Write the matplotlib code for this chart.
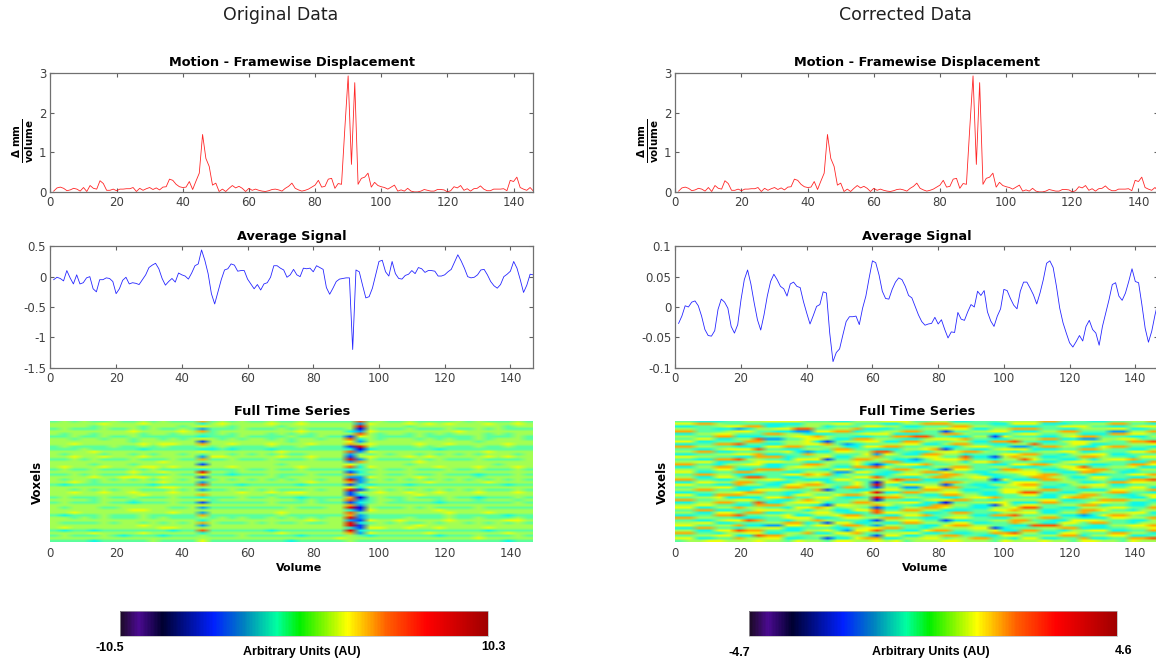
import numpy as np
import matplotlib
matplotlib.use("Agg")
import matplotlib.pyplot as plt
from matplotlib.colors import LinearSegmentedColormap, Normalize
from matplotlib.cm import ScalarMappable

# framewise displacement, same in both columns
fd = [.03, .11, .13, .10, .04, .06, .10, .08, .03, .12,
      .02, .17, .10, .08, .29, .22, .05, .05, .08, .04,
      .08, .08, .09, .09, .12, .02, .10, .05, .09, .12,
      .07, .11, .06, .13, .14, .33, .30, .20, .14, .12,
      .13, .27, .07, .28, .48, 1.45, .85, .65, .18, .23,
      .02, .08, .02, .10, .17, .11, .15, .10, .02, .10,
      .05, .08, .05, .03, .02, .04, .07, .08, .06, .03,
      .10, .15, .23, .10, .06, .03, .05, .08, .13, .18,
      .30, .13, .15, .33, .35, .10, .22, .20, 1.6, 2.92,
      .7, 2.75, .2, .35, .38, .48, .13, .25, .17, .14,
      .12, .08, .13, .18, .03, .06, .03, .10, .03, .01,
      .01, .03, .07, .05, .03, .03, .07, .07, .06, .01,
      .04, .14, .11, .17, .05, .09, .03, .09, .10, .16,
      .08, .04, .04, .08, .08, .08, .09, .04, .30, .27,
      .38, .12, .08, .05, .12, .03]

avg_orig = [-.05, -.01, -.03, -.07, .10, -.02, -.12, .03, -.12, -.10,
            -.02, 0, -.20, -.25, -.05, -.05, -.02, -.03, -.08, -.28,
            -.20, -.06, -.01, -.12, -.10, -.11, -.13, -.05, .03, .15,
            .19, .22, .13, -.03, -.14, -.08, -.03, -.09, .06, .03,
            .01, -.04, .06, .18, .21, .44, .27, .05, -.28, -.45,
            -.25, -.05, .11, .13, .21, .19, .09, .10, .10, -.04,
            -.12, -.20, -.13, -.22, -.12, -.10, -.01, .18, .18, .14,
            .11, -.01, .03, .12, .03, 0, .14, .13, .14, .08,
            .18, .15, .12, -.18, -.29, -.19, -.08, -.04, -.03, -.02,
            -.02, -1.2, .11, .08, -.14, -.35, -.33, -.19, .03, .25,
            .27, .08, .01, .25, .05, -.03, -.04, .02, .04, .10,
            .05, .15, .13, .07, .10, .10, .09, .01, .01, .03,
            .08, .12, .24, .36, .26, .14, 0, -.02, -.01, .03,
            .11, .12, .03, -.08, -.15, -.19, -.13, 0, .04, .09,
            .25, .14, -.05, -.26, -.14, .04, .03]

avg_corr = [-.027, -.015, .002, 0, .008, .01, .002, -.015, -.037, -.047,
            -.048, -.039, -.004, .013, .008, -.002, -.032, -.043, -.029, .012,
            .045, .061, .038, .007, -.021, -.038, -.013, .018, .042, .054,
            .045, .034, .03, .018, .038, .041, .034, .032, .009, -.01,
            -.028, -.014, .001, .004, .025, .023, -.043, -.09, -.075, -.069,
            -.046, -.024, -.016, -.016, -.015, -.029, -.002, .018, .048, .076,
            .073, .053, .026, .014, .013, .029, .041, .048, .045, .034,
            .019, .015, .001, -.013, -.024, -.03, -.028, -.027, -.017, -.028,
            -.021, -.037, -.051, -.041, -.042, -.009, -.02, -.022, -.008, .004,
            0, .026, .019, .027, -.008, -.023, -.032, -.015, -.003, .029,
            .027, .014, .003, -.003, .026, .041, .041, .031, .02, .005,
            .023, .045, .072, .076, .065, .034, -.002, -.026, -.043, -.059,
            -.066, -.057, -.047, -.056, -.032, -.022, -.037, -.043, -.063, -.032,
            -.01, .012, .037, .04, .018, .011, .023, .042, .063, .042,
            .04, .004, -.035, -.058, -.04, -.013, .01]

# heatmaps read by eye: one digit per 3 volumes, 0 = blue ... 9 = red
heat_orig = [
    "4545445 4454544 4745454 4544544 4448454 4544445 4544454",
    "5555565 5565555 5356555 5655655 5552655 5656565 5565565",
    "5555455 5545554 5655455 5545555 5559555 5455555 5555455",
    "4544454 4545445 4244454 4454544 4450544 4544454 4545444",
    "5555555 5655556 5745555 5555655 5532655 5555556 5555555",
    "5455455 5545545 5445455 5454545 5558545 5454545 5545455",
    "4454454 4544444 4344454 4445445 4416544 4454444 4544454",
    "5545545 5455454 5654545 5454554 5583545 5545454 4545554",
    "5555555 5455555 5155555 5554555 5562555 5555555 5455555",
    "5565555 5565665 5755655 5655565 5575655 5565565 5555655",
    "4544445 4454544 4545444 4544544 4419544 4454544 4544544",
    "4445444 4434444 4334344 4344444 4430344 4444344 4444444",
    "5555655 5555555 5655555 5565555 5582655 5555555 5565555",
    "5455545 5454554 5455454 5454455 5525454 5545454 5455545",
    "5565565 5565555 5266555 5565565 5515655 5656555 5565655",
    "4454544 4544454 4744544 4544454 4492544 4454544 4544445",
    "5555555 5555655 5455555 5555555 5527555 5565555 5555555",
    "5555455 5455555 5155555 5545555 5564555 5455555 5554555",
    "5655565 5566565 5655655 5555655 5583655 5555655 5655565",
    "4544544 4545444 4344454 4544544 4434454 4544454 4544454",
    "5555555 5655655 5955455 5555555 5513555 5555555 5555555",
    "4454544 4544454 4644344 4544454 4474454 4544544 4344454",
    "5555655 6665655 5155555 5545555 5522655 5565555 5455555",
    "5455454 5454554 5545454 5454554 5592454 5454545 4545454",
    "5565455 5555655 5255555 5555565 5572555 5556555 5565555",
    "4344444 4443444 4844434 4444344 4414344 4344444 4444344",
    "5555555 5555665 5555555 5555555 5563655 5555555 5555555",
    "5545454 5544454 5244545 4544454 5591454 5454545 4544454",
    "5565565 5655565 5555565 5656655 5515565 5655655 5655565",
    "5555555 5565555 5755555 5455555 5513555 5565555 5555555",
    "4544454 4544454 4344454 4544344 4470454 4544454 4344454",
    "5555455 5455555 5645555 5555454 5582455 4555455 5455545",
    "4544454 4344454 4144444 4544454 4413454 4444344 4444454",
    "5555555 5555555 5655555 5555555 5572555 5555555 5555555",
    "5455544 5555544 5244444 4445444 5590544 4545444 4544444",
    "5555555 5665555 5555555 5555555 5531655 5555655 5555555",
    "5565555 5555565 5255555 5565555 5584555 5555565 5565555",
    "4344454 4454444 4744444 4454444 4472444 4444454 4444344",
    "5545454 4454544 4545454 4545454 5592444 4544454 4544454",
    "5555555 5555555 5355555 5555565 5521655 6555565 5555665",
    "5444454 5545454 5754445 4544544 5593454 5445455 4545454",
    "5555555 5565555 5255555 5555555 5591555 5565555 5555555",
    "5655555 5555665 5555555 5555555 5531665 5655655 5565555",
    "4344344 4444434 4844444 4344444 4493444 4444444 4434444",
    "5555655 5565555 5355555 5565555 5572655 5556555 5555655",
    "4544454 3444344 4544454 4444344 4454344 4444344 4544454",
    "5555555 5555555 5555555 5555555 5655555 5555555 5655555",
    "4444344 4445444 4644444 4443444 4454444 4444444 4444344",
]
heat_corr = [
    "4433344 5566664 4433555 6664455 3344455 5577444 3344557",
    "6677544 4433335 5566444 3355777 5544336 6633344 5577443",
    "3344566 7733445 5344466 5533444 7755443 3344666 4433566",
    "5544332 3556688 4455733 3444556 6633557 7744335 5566334",
    "7744456 6443322 6677344 5577441 4455663 3355774 4422557",
    "3355664 4477553 3344566 6333447 7544335 6644553 3377664",
    "5544773 3344566 7544334 4778844 3355164 4433567 7444335",
    "4466335 5822446 6533775 5433566 6744335 5577332 2556644",
    "6633444 7744556 3145566 3377544 5533778 4433566 5544778",
    "3344778 4433556 6742344 5566335 7744335 5844466 3344556",
    "7755443 3366774 4553366 7744553 3566442 2477553 3677443",
    "4433566 6844335 5477443 3355671 4433566 6333447 7544335",
    "5577334 4455632 3366558 8443356 6775443 4455663 3444667",
    "3344556 6733447 5544462 6533775 5344466 7744355 6633444",
    "6655443 3777344 5633557 4455664 4833157 5533447 7544366",
    "4433778 5544366 6144775 5332466 6744355 8644335 3566744",
    "5566334 4666553 3555644 7733445 5366744 4433566 5544337",
    "7744355 6633447 7544631 3566744 5544336 6775544 3344776",
    "3355774 4433566 5533778 6443355 7744553 3344668 4455633",
    "5544663 3777544 4366344 4775531 6644377 5533466 7744355",
    "6633447 7544335 5522664 3355776 4433556 6644337 7553344",
    "4477553 3344667 6735443 3566447 7553344 6677445 3344667",
    "5533664 8844335 5444668 4433577 5566334 4775533 6644335",
    "7744335 5566443 3366445 5877334 4455163 3377544 5533778",
    "3366557 7443355 6344640 6633447 7544336 6644553 3477665",
    "6644337 5533667 7544649 4366551 4433556 7744355 6633445",
    "4455663 3344775 5537741 5522667 7443355 6633447 5544663",
    "5577443 3666544 7144335 6644775 5334466 5577443 3366557",
    "3344556 7744335 5544469 3377556 6443366 8844335 5577443",
    "6633777 5544366 4467755 5644337 7553344 6633557 7443356",
    "4455633 3366744 6643349 7755443 3566744 4433677 5544336",
    "7744556 6443357 5544550 4433566 7744355 5566334 4777553",
    "3355774 4833566 6344775 5566330 4455663 3377444 6655334",
    "5566443 3777544 3166557 6443377 5533164 6644557 7344335",
    "6633557 5544366 7645541 3355776 4433556 8844335 5566447",
    "4477334 4666553 5533668 4477553 3344667 5533447 7644355",
    "5533664 7733445 6643348 6655334 7744355 6633557 4455663",
    "3344778 4455633 5567744 3366744 5533778 4455332 3677544",
    "7755443 3344666 3346655 7744335 6644335 5577443 3366557",
    "4433566 8744355 7544431 5566441 3344557 7443366 6544335",
    "5566334 4455773 4166335 3377554 6633447 5533664 7744355",
    "6644557 3322664 6647742 5544336 7755443 3888544 3355667",
    "3377443 5566334 4433566 7744355 5566134 4455773 3344556",
    "5533668 7744335 5642668 4433677 4455633 7744355 6633447",
    "7744355 6633557 3366744 5566334 3344778 5533664 4477553",
    "4455663 3877544 5545541 6633557 7443366 4455773 5566334",
    "6633447 5566334 4133677 3355664 5577443 6633447 3344778",
    "4556655 5655465 5466556 5645556 6555465 5565546 6554655",
]

range_orig = (-10.5, 10.3)
range_corr = (-4.7, 4.6)
x_ticks = [0, 20, 40, 60, 80, 100, 120, 140]

W, H = 1156, 662
GRAY = "#404040"

bar_cmap = LinearSegmentedColormap.from_list("bar", [
    (0.0, "#1a0a24"), (0.05, "#4b0a90"), (0.115, "#000030"), (0.255, "#0020ff"),
    (0.337, "#0080c0"), (0.427, "#00ffa0"), (0.49, "#00f000"), (0.62, "#ffff00"),
    (0.726, "#ff6000"), (0.835, "#ff0000"), (1.0, "#a00000")])


def px_axes(fig, x0, y0, x1, y1):
    return fig.add_axes([x0 / W, 1 - y1 / H, (x1 - x0) / W, (y1 - y0) / H])


def style(ax, title, pad=4.7):
    ax.set_title(title, fontsize=9.25, fontweight="bold", pad=pad)
    ax.tick_params(direction="in", length=3, width=0.8, color="#606060", labelcolor=GRAY,
                   labelsize=8.5, top=True, right=True, pad=3)
    for s in ax.spines.values():
        s.set_color("#707070")
        s.set_linewidth(0.9)
    ax.set_xticks(x_ticks)


def decode(rows, lims):
    grid = np.array([[int(c) for c in r.replace(" ", "")] for r in rows], float)
    frac = 0.1 + 0.09 * grid
    return lims[0] + frac * (lims[1] - lims[0])


def column(fig, x0, title, avg, avg_lim, avg_ticks, avg_labels, heat, lims, vox_x, vol_x, cb_x0, lab_lo, lab_hi, lab_y):
    x1 = x0 + 483
    fig.text((x0 + 241 - 11) / W, 1 - 15.5 / H, title, ha="center", va="center", fontsize=12.5, color="#202020")

    ax = px_axes(fig, x0, 72.7, x1, 192.3)
    ax.plot(np.arange(1, len(fd) + 1), fd, color="#ff0000", lw=0.6, alpha=0.85)
    ax.set_xlim(0, 146)
    ax.set_ylim(0, 3)
    style(ax, "Motion - Framewise Displacement")
    ax.set_yticks([0, 1, 2, 3])
    ax.set_ylabel(r"$\mathbf{\frac{\Delta\ mm}{volume}}$", fontsize=10.5)
    ax.yaxis.set_label_coords(-0.03, 0.43)

    ax = px_axes(fig, x0, 246.3, x1, 367.7)
    ax.plot(np.arange(1, len(avg) + 1), avg, color="#0000ff", lw=0.6, alpha=0.85)
    ax.set_xlim(0, 147)
    ax.set_ylim(*avg_lim)
    style(ax, "Average Signal")
    ax.set_yticks(avg_ticks)
    ax.set_yticklabels(avg_labels)

    ax = px_axes(fig, x0, 420.7, x1, 542)
    ax.imshow(decode(heat, lims), cmap="jet", vmin=lims[0], vmax=lims[1], aspect="auto",
              extent=[0, 147, 0, 1], interpolation="bilinear")
    style(ax, "Full Time Series", pad=4)
    ax.set_yticks([])
    ax.tick_params(length=0, top=False, right=False, pad=3.5)
    for s in ax.spines.values():
        s.set_visible(False)
    fig.text(vox_x / W, 1 - 482 / H, "Voxels", rotation=90, ha="center", va="center", fontsize=8.5, fontweight="bold")
    fig.text(vol_x / W, 1 - 568 / H, "Volume", ha="center", va="center", fontsize=8, fontweight="bold")

    cax = px_axes(fig, cb_x0, 610.7, cb_x0 + 368, 635.7)
    cb = fig.colorbar(ScalarMappable(Normalize(*lims), bar_cmap), cax=cax, orientation="horizontal")
    cb.set_ticks([])
    cb.outline.set_edgecolor("#b0b0b0")
    cb.outline.set_linewidth(0.5)
    bar_font = dict(family="Liberation Sans", fontweight="bold", fontsize=9, ha="center", va="center")
    fig.text((cb_x0 - 9.5) / W, 1 - lab_y / H, lab_lo, **bar_font)
    fig.text((cb_x0 + 374.5) / W, 1 - (lab_y - 1) / H, lab_hi, **bar_font)
    fig.text((cb_x0 + 182) / W, 1 - 652 / H, "Arbitrary Units (AU)", **bar_font)


plt.rcParams["font.family"] = "DejaVu Sans"
plt.rcParams["mathtext.fontset"] = "dejavusans"

fig = plt.figure(figsize=(W / 100, H / 100), dpi=100)
column(fig, 50.4, "Original Data", avg_orig, (-1.5, 0.5), [-1.5, -1, -.5, 0, .5],
       ["-1.5", "-1", "-0.5", "0", "0.5"], heat_orig, range_orig, 37, 299, 119.5, "-10.5", "10.3", 648)
column(fig, 675.3, "Corrected Data", avg_corr, (-0.1, 0.1), [-.1, -.05, 0, .05, .1],
       ["-0.1", "-0.05", "0", "0.05", "0.1"], heat_corr, range_corr, 662, 925, 749, "-4.7", "4.6", 652.5)
fig.savefig("out.png", dpi=100)
